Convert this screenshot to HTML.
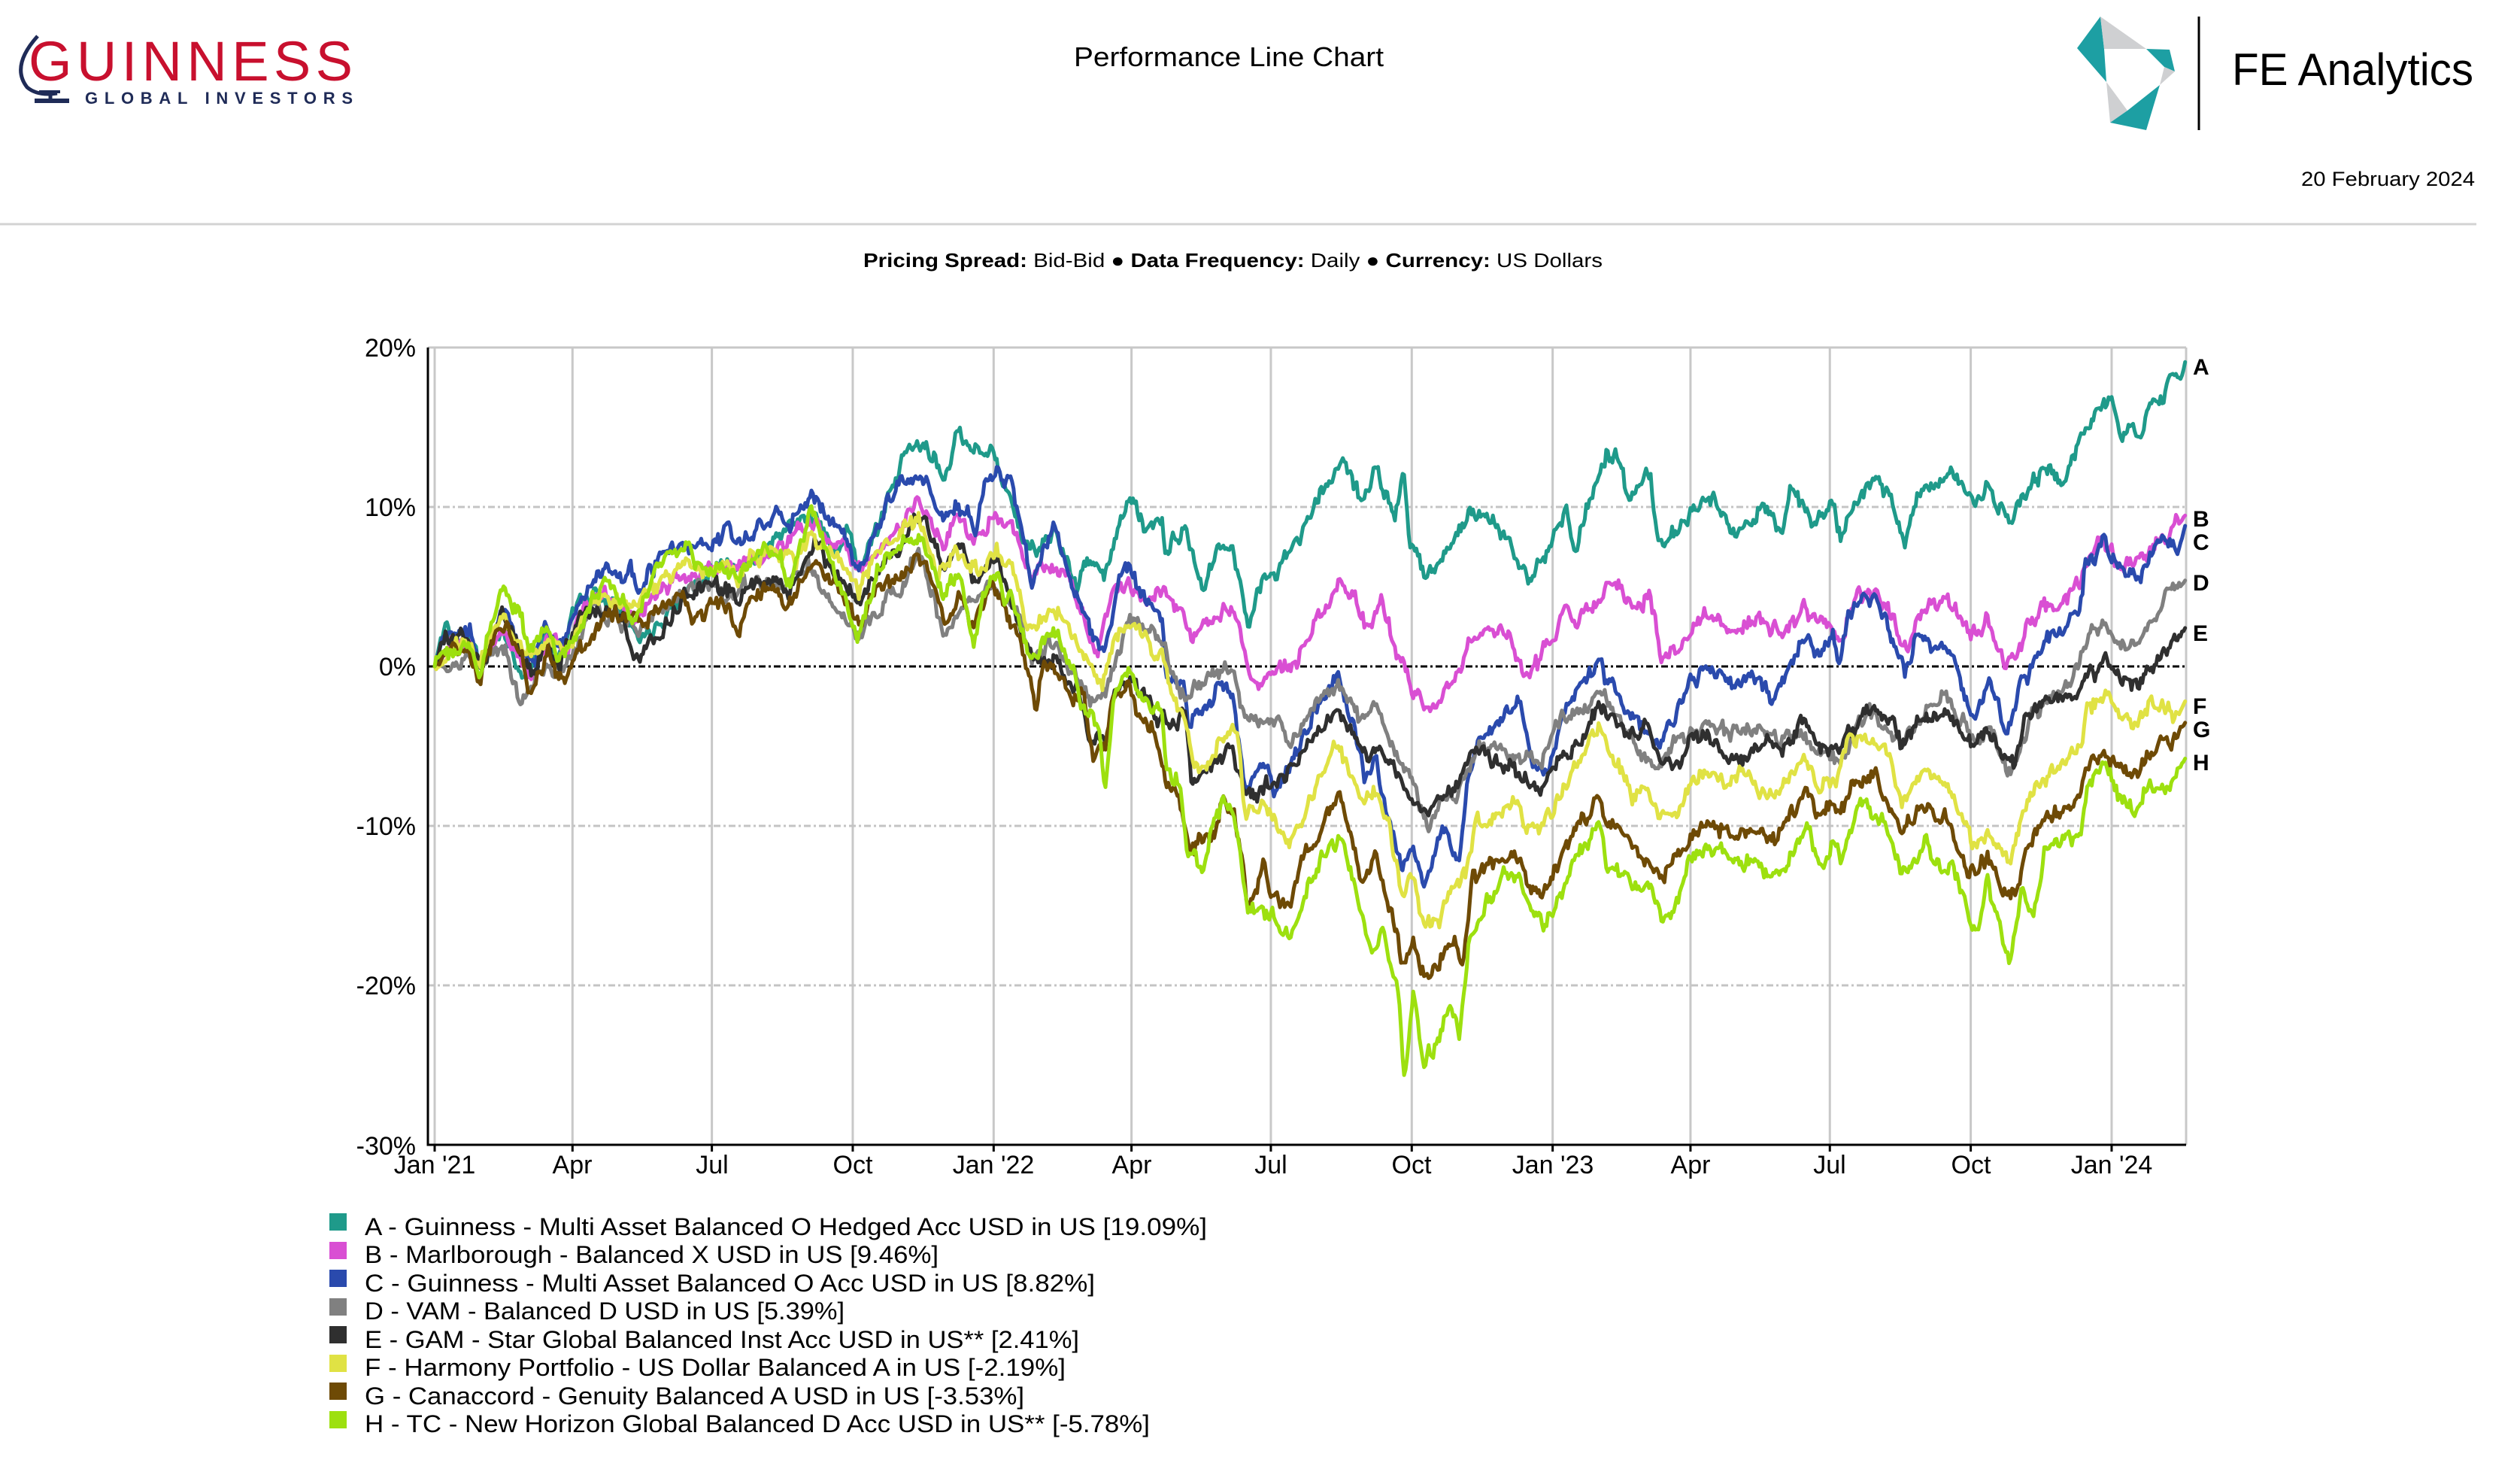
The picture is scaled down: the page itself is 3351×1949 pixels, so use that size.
<!DOCTYPE html>
<html>
<head>
<meta charset="utf-8">
<style>
html,body{margin:0;padding:0;background:#fff;overflow:hidden;}
svg{display:block;font-family:"Liberation Sans",Arial,sans-serif;}
</style>
</head>
<body>
<svg id="chart" width="3351" height="1949" viewBox="0 0 3351 1949" xmlns="http://www.w3.org/2000/svg">
  <rect x="0" y="0" width="3351" height="1949" fill="#ffffff"/>

  <!-- Guinness logo -->
  <path d="M50 48 Q14 88 36 116 Q50 128 76 124" fill="none" stroke="#1f2b57" stroke-width="5"/>
  <line x1="67" y1="121" x2="67" y2="133" stroke="#1f2b57" stroke-width="5"/>
  <rect x="46" y="131" width="46" height="6" fill="#1f2b57"/>
  <rect x="52" y="120" width="28" height="4" fill="#1f2b57"/>
  <text x="38" y="107" font-size="74" fill="#c8102e" textLength="431" lengthAdjust="spacing">GUINNESS</text>
  <text x="113" y="138" font-size="22" font-weight="bold" fill="#1f2b57" textLength="356" lengthAdjust="spacing">GLOBAL INVESTORS</text>

  <!-- Title -->
  <text x="1428" y="88" font-size="36" fill="#000" textLength="412" lengthAdjust="spacingAndGlyphs">Performance Line Chart</text>

  <!-- FE logo -->
  <polygon points="2793,22 2798,65 2801,109 2762,64" fill="#1d9fa3"/>
  <polygon points="2793,22 2854,65 2798,65" fill="#cfd0d2"/>
  <polygon points="2854,65 2885,66 2892,95 2878,89" fill="#1d9fa3"/>
  <polygon points="2878,89 2892,95 2872,113" fill="#cfd0d2"/>
  <polygon points="2801,109 2829,147 2806,163" fill="#cfd0d2"/>
  <polygon points="2806,163 2829,147 2872,113 2854,173" fill="#1d9fa3"/>
  <line x1="2924" y1="22" x2="2924" y2="173" stroke="#000" stroke-width="3"/>
  <text x="2968" y="113" font-size="60" fill="#000" textLength="321" lengthAdjust="spacingAndGlyphs">FE Analytics</text>
  <text x="3060" y="247" font-size="27" fill="#000" textLength="231" lengthAdjust="spacingAndGlyphs">20 February 2024</text>

  <!-- Separator -->
  <line x1="0" y1="298" x2="3293" y2="298" stroke="#d3d3d3" stroke-width="3"/>

  <!-- Subtitle -->
  <text x="1148" y="355" font-size="26" fill="#000" textLength="983" lengthAdjust="spacingAndGlyphs"><tspan font-weight="bold">Pricing Spread:</tspan> Bid-Bid ● <tspan font-weight="bold">Data Frequency:</tspan> Daily ● <tspan font-weight="bold">Currency:</tspan> US Dollars</text>

  <!-- Plot frame & grid -->
  <g id="grid"></g>
  <g id="series" fill="none" stroke-width="5" stroke-linejoin="round" stroke-linecap="round"></g>
  <g id="axes"></g>

  <!-- Right letters -->
  <g font-size="30" font-weight="bold" fill="#000">
    <text x="2916" y="498">A</text>
    <text x="2916" y="700">B</text>
    <text x="2916" y="731">C</text>
    <text x="2916" y="785">D</text>
    <text x="2916" y="852">E</text>
    <text x="2916" y="949">F</text>
    <text x="2916" y="980">G</text>
    <text x="2916" y="1024">H</text>
  </g>

  <!-- Y labels -->
  <g font-size="34" fill="#000" text-anchor="end">
    <text x="553" y="474">20%</text>
    <text x="553" y="686">10%</text>
    <text x="553" y="898">0%</text>
    <text x="553" y="1110">-10%</text>
    <text x="553" y="1322">-20%</text>
    <text x="553" y="1535">-30%</text>
  </g>

  <!-- X labels -->
  <g font-size="34" fill="#000" text-anchor="middle">
    <text x="578" y="1560">Jan '21</text>
    <text x="761" y="1560">Apr</text>
    <text x="947" y="1560">Jul</text>
    <text x="1134" y="1560">Oct</text>
    <text x="1321" y="1560">Jan '22</text>
    <text x="1505" y="1560">Apr</text>
    <text x="1690" y="1560">Jul</text>
    <text x="1877" y="1560">Oct</text>
    <text x="2065" y="1560">Jan '23</text>
    <text x="2248" y="1560">Apr</text>
    <text x="2433" y="1560">Jul</text>
    <text x="2621" y="1560">Oct</text>
    <text x="2808" y="1560">Jan '24</text>
  </g>

  <!-- Legend -->
  <g>
    <rect x="438" y="1613" width="23" height="23" fill="#1f9a8a"/>
    <rect x="438" y="1651" width="23" height="23" fill="#d94fd3"/>
    <rect x="438" y="1688" width="23" height="23" fill="#2a4aad"/>
    <rect x="438" y="1726" width="23" height="23" fill="#808080"/>
    <rect x="438" y="1763" width="23" height="23" fill="#2f2f2f"/>
    <rect x="438" y="1801" width="23" height="23" fill="#e0e244"/>
    <rect x="438" y="1838" width="23" height="23" fill="#6e4a05"/>
    <rect x="438" y="1876" width="23" height="23" fill="#9de00f"/>
  </g>
  <g font-size="32" fill="#000">
    <text x="485" y="1642" textLength="1120" lengthAdjust="spacingAndGlyphs">A - Guinness - Multi Asset Balanced O Hedged Acc USD in US [19.09%]</text>
    <text x="485" y="1679" textLength="763" lengthAdjust="spacingAndGlyphs">B - Marlborough - Balanced X USD in US [9.46%]</text>
    <text x="485" y="1717" textLength="971" lengthAdjust="spacingAndGlyphs">C - Guinness - Multi Asset Balanced O Acc USD in US [8.82%]</text>
    <text x="485" y="1754" textLength="638" lengthAdjust="spacingAndGlyphs">D - VAM - Balanced D USD in US [5.39%]</text>
    <text x="485" y="1792" textLength="950" lengthAdjust="spacingAndGlyphs">E - GAM - Star Global Balanced Inst Acc USD in US** [2.41%]</text>
    <text x="485" y="1829" textLength="932" lengthAdjust="spacingAndGlyphs">F - Harmony Portfolio - US Dollar Balanced A in US [-2.19%]</text>
    <text x="485" y="1867" textLength="877" lengthAdjust="spacingAndGlyphs">G - Canaccord - Genuity Balanced A USD in US [-3.53%]</text>
    <text x="485" y="1904" textLength="1044" lengthAdjust="spacingAndGlyphs">H - TC - New Horizon Global Balanced D Acc USD in US** [-5.78%]</text>
  </g>
</svg>

<script>
(function(){
  var NS = "http://www.w3.org/2000/svg";
  function X(d){ return 578 + 2.0365*d; }
  function Y(v){ return 886 - 21.2*v; }
  function el(tag, attrs, parent){
    var e = document.createElementNS(NS, tag);
    for (var k in attrs) e.setAttribute(k, attrs[k]);
    parent.appendChild(e); return e;
  }
  var grid = document.getElementById('grid');
  var axes = document.getElementById('axes');
  var top = Y(20), bot = 1522, left = 569, right = 2907;
  var ticks = [0,90,181,273,365,455,546,638,730,820,911,1003,1095];
  ticks.forEach(function(d){
    el('line',{x1:X(d),y1:top,x2:X(d),y2:bot,stroke:'#c8c8c8','stroke-width':3},grid);
  });
  el('line',{x1:left,y1:top,x2:right,y2:top,stroke:'#c8c8c8','stroke-width':3},grid);
  el('line',{x1:right,y1:top,x2:right,y2:bot,stroke:'#c8c8c8','stroke-width':3},grid);
  [10,-10,-20].forEach(function(v){
    el('line',{x1:left,y1:Y(v),x2:right,y2:Y(v),stroke:'#c4c4c4','stroke-width':3,'stroke-dasharray':'9 4 3 4'},grid);
  });
  el('line',{x1:left,y1:Y(0),x2:right,y2:Y(0),stroke:'#000','stroke-width':3,'stroke-dasharray':'9 4 3 4'},grid);
  el('line',{x1:left,y1:top,x2:left,y2:bot+1.5,stroke:'#000','stroke-width':3},axes);
  el('line',{x1:left,y1:bot,x2:right,y2:bot,stroke:'#000','stroke-width':3},axes);
  ticks.forEach(function(d){
    el('line',{x1:X(d),y1:bot,x2:X(d),y2:bot+9,stroke:'#000','stroke-width':3},axes);
  });

  var S = {
A:[0,0, 7,2.9, 10.8,1.7, 23,1.9, 30,0.2, 43.7,2.2, 50,1.1, 57,-0.6, 64.5,0.4, 72,1.7, 81.6,0.7, 91,3.7, 106,4.7, 123,3.7, 133,1.7, 143,2.5, 167,5, 187,6.6, 204,6.3, 226,8.3, 245,9.6, 260,7.6, 272,8.4, 277,6, 289,8.6, 299,11, 309,13.7, 321,13.8, 333,11.7, 340.5,14.9, 350,13.3, 362.5,13.8, 370,12, 377,10.1, 389,6.9, 404,8.5, 419,5.1, 426,6.7, 438,5.9, 453,10.7, 463,8.8, 475,8.8, 477.5,7.2, 490,8.5, 502,4.8, 512,7.5, 521.5,7.5, 531,2.7, 541,5.3, 556,6.7, 566,8.5, 580,10.9, 592.5,13.2, 605,10.4, 614.5,12.3, 627,9.3, 633,11.9, 636.5,7.7, 649,5.9, 663,7.5, 678,9.9, 695,8.5, 715,5.6, 727,7.2, 739,10.1, 745,7.2, 753,10.2, 765,13.3, 772,13.2, 780,10.3, 794,11.9, 799,8.1, 805,7.7, 820,9.6, 832.5,10.7, 850,8.1, 868,10.1, 880,8.4, 885,11.2, 900,9.1, 913,10.3, 918,8.1, 930.6,11, 940.6,12, 950.7,10.6, 959.5,7.7, 968,10.9, 981,11.3, 986,12.4, 1001,11, 1006,9.7, 1013.6,11.5, 1028.6,8.6, 1036,10.6, 1054,12.7, 1061,11.4, 1076,14.4, 1084.6,16, 1095,16.6, 1101,14.3, 1109,15.6, 1112.7,14.2, 1122,17, 1128,16.5, 1137,18.6, 1140.5,18, 1143,19.09],
B:[0,0, 10.8,1.2, 23,1.7, 30,0.2, 43.7,2.5, 57,0.1, 64.5,-0.6, 74,2, 86.5,0.9, 94,3.4, 106,4.7, 123,3.7, 133,2.7, 147.5,5, 167,5.8, 187,6.3, 208.6,6.6, 226,7.3, 248,9.2, 260,7.6, 265,7.8, 277,5.8, 289,7.4, 299,8.1, 316,10.6, 333,7.1, 340.5,9.4, 352.8,7.9, 367.5,9.6, 372,9, 377,8.8, 389.5,5.3, 399,6.4, 414,5.9, 423.7,3.2, 431,0.5, 443,4.8, 453,5.2, 463,4.5, 475,4.8, 485,3.7, 494.6,1.9, 507,2.9, 521.5,3.9, 526.4,2.1, 536,-1.3, 546,0, 560.7,0, 573,2.4, 585,4.3, 591,5.2, 602,4, 610,2.1, 618,4.3, 627,1.3, 639,-1.6, 650,-2.7, 663,-1.1, 680.5,2.1, 697.6,2.4, 713.5,-0.5, 727,1.1, 739,3.7, 746.6,2.7, 750,3.1, 757,3.8, 767,5.6, 775,5, 782,3.6, 794,4.3, 801,0.4, 812,0.9, 820,2.4, 832.5,3.3, 850,2.2, 865,3.1, 880,1.9, 894,3.6, 910,2.4, 918,1.5, 928,4.3, 940.6,4.8, 950.7,3.6, 959.5,0.9, 973,3.6, 988,4.3, 1003.5,1.6, 1013.6,3.1, 1026,0.4, 1032,0.4, 1041,2.8, 1051,4, 1061,3.6, 1074,5.3, 1076.4,6.2, 1089,7.8, 1101.6,6.2, 1111.6,6.5, 1121.7,7.7, 1134,8.4, 1143,9.46],
C:[0,0, 7,2, 23,2.2, 30,0.2, 43.7,4, 57,0.7, 64.5,0.1, 72,2.5, 81.6,1.4, 94,4, 106,5.6, 113,5.8, 123,5.2, 128,6.5, 133,4.3, 143,6.5, 155,7.3, 169.6,7.4, 182,7.7, 191.5,8.8, 199,7.3, 211,8.9, 226,9.6, 230.6,8.6, 240.4,9.9, 246.5,11, 257.5,9.2, 265,8.6, 277,6, 289,8.8, 296.6,10.4, 307.6,12, 321,11.6, 333,8.9, 340.5,10, 348,9.6, 352.8,8.1, 360,11.9, 367.5,12.2, 372,11.3, 376,11.7, 381,9.6, 389.5,5.3, 397,7.2, 404,9.1, 411.5,6.4, 419,4.3, 428.6,2.1, 438,1.1, 445.7,4.8, 453,6.4, 460,4.8, 475,3.2, 477.5,-0.5, 490,-1.6, 492,-3.7, 502,-2.7, 512,-1.3, 521.5,-1.6, 529,-7.5, 541,-5.9, 548.5,-8, 558,-6.4, 570,-3.7, 580,-1.6, 590,-0.8, 600,-3.2, 607,-6.9, 614.5,-5.6, 619.4,-8, 631.6,-12.8, 639,-11.2, 646,-13.9, 658.5,-10.1, 669.5,-12, 675.6,-6.4, 683,-4.8, 697.6,-3.2, 708.6,-2.1, 717,-6.4, 727,-6.4, 737,-2.7, 746.6,-1.1, 753,-0.8, 760,0.9, 765,-0.8, 775,-2.5, 787,-3.7, 800,-4.9, 810,-2.9, 820,-1, 830,-0.3, 850,-1, 865,-0.8, 873,-2.2, 885,0, 895,2.1, 905.5,0.7, 913,2.1, 917,0.4, 925.6,3.8, 940.6,4.3, 950.7,2.4, 959.5,-0.3, 968,1.9, 981,0.9, 991,0.9, 998.5,-1.7, 1005,-3.4, 1013.6,-1, 1021,-2.5, 1027,-4.4, 1036,-0.8, 1043.7,0, 1049,1.4, 1064,2.6, 1075,3.8, 1077.7,6.2, 1090,7.7, 1100,6, 1111.6,5.5, 1121.7,7.2, 1134,7.9, 1139,7.2, 1143,8.82],
D:[0,0, 10.8,0.1, 23,0.7, 30,-0.1, 40,1.1, 47,0.7, 54.7,-1.9, 62,-1.7, 72,0.1, 81.6,-0.7, 89,0.7, 103.6,4, 113,3, 128,2.4, 135,2.2, 147.5,3.4, 162,4.7, 182,5.2, 191.5,4.3, 206,5.3, 226,5, 245,6.1, 260,3.7, 277,2, 289,3.7, 304,4.7, 316,7.1, 333,1.9, 348,4, 362.5,5.2, 372,4.2, 380,3.7, 389.5,0.5, 404,1.3, 419,-0.5, 428.6,-1.9, 438,-1.6, 453,2.9, 463,2.4, 475,1.6, 480,0, 490,-2.1, 499.5,-1.1, 512,-0.3, 521.5,0, 529,-3.2, 541,-3.7, 551,-3.2, 558,-5.1, 570,-2.9, 580,-1.9, 590,-1.1, 605,-3.2, 614.5,-2.4, 627,-5.6, 636.5,-6.9, 649,-9.9, 658.5,-8, 668,-8, 680.5,-5.1, 697.6,-5.1, 712,-6.1, 722,-5.9, 737,-2.7, 746.6,-3.2, 753,-2.3, 760,-1.3, 770,-2.5, 785,-5.3, 797.4,-6.3, 810,-4.9, 820,-4.1, 832.5,-3.4, 850,-4.4, 865,-3.7, 878,-4.6, 890,-4.1, 903,-5.3, 918,-5.8, 930.6,-3.4, 940.6,-2.9, 945.7,-3.9, 958,-4.9, 971,-3.2, 986,-2, 996,-3.4, 1008.5,-4.4, 1016,-3.7, 1027,-6.6, 1033.7,-5.6, 1043.7,-3.2, 1056,-1.7, 1066,-1.3, 1074,0.4, 1084,2.6, 1091.5,2.6, 1099,1.2, 1111.6,1.6, 1121.7,3.1, 1131.7,4.3, 1143,5.39],
E:[0,0, 7,1.7, 23,1.7, 30,-0.1, 43.7,3.7, 57,0.7, 64.5,-0.4, 72,1.6, 81.6,0.2, 94,3, 106,3.5, 123,3, 130.5,0.4, 138,1.1, 147.5,2.2, 162,4, 167,4.7, 182,5.3, 191.5,4.7, 199,4.3, 211,5.2, 223,5.5, 230.6,4.7, 248,7.8, 260,6, 277,3.8, 289,6, 304,7.3, 316,9.6, 333,6.5, 343,7.6, 352.8,5.3, 367.5,6.6, 372,5, 380,2.9, 389.5,0.5, 397,0.5, 404,0.5, 419,-1.6, 428.6,-4.3, 438,-4.8, 443,-2.1, 453,-0.5, 463,-1.9, 475,-3.2, 477.5,-3.7, 490,-3.2, 494.6,-7.5, 502,-6.4, 512,-5.9, 521.5,-5.3, 529,-8, 541,-7.5, 556,-6.9, 570,-4.8, 580,-3.7, 590,-2.7, 600,-4.3, 610,-5.9, 617.9,-4.8, 630,-6.9, 636.5,-8.3, 649,-9.1, 656,-8, 668,-7.5, 678,-5.3, 692.8,-5.9, 702.5,-6.4, 712,-7.2, 722,-7.7, 737,-5.6, 746.6,-4.8, 753,-3.5, 760,-2.7, 770,-3.2, 782,-4.6, 790,-3.4, 800,-6.1, 815,-5.8, 822.5,-4.4, 832.5,-4.4, 845,-5.8, 857.7,-5.6, 870,-4.6, 880,-5.3, 893,-3.4, 905.5,-4.9, 918,-5.3, 930.6,-3.2, 940.6,-2.5, 950.7,-3.4, 958,-5.3, 968,-3.4, 986,-2.9, 998.5,-4.4, 1006,-5.1, 1013.6,-3.9, 1023.6,-5.8, 1031,-5.8, 1038.7,-3.4, 1054,-2, 1064,-2.5, 1079,-1, 1091.5,0.2, 1101.6,-1, 1111.6,-1.5, 1124,0.2, 1134,1.2, 1143,2.41],
F:[0,0, 1,-0.2, 10.8,1.1, 23,1.4, 28,0.1, 43.7,3.4, 57,1.1, 64.5,0.4, 74,2, 86.5,0.9, 98.7,3, 108,4.2, 123,4, 130.5,3.7, 143,5, 164.7,6.6, 177,5.8, 191.5,6.6, 199,5.3, 206,7, 226,7.3, 235.5,6.6, 245,8.6, 260,7, 277,5, 289,7.3, 304,8.3, 316,9.1, 328,5.8, 340.5,7, 352.8,6, 367.5,7.4, 372,6.5, 377,5.9, 389.5,2.1, 397,2.9, 404,4, 419,1.6, 428.6,0, 436,-1.3, 443,1.6, 455.5,2.9, 467.7,1.1, 475,0.8, 482,-2.1, 490,-3.2, 494.6,-5.9, 504,-6.7, 514,-4.3, 524,-4.3, 529,-9.1, 541,-8.5, 551,-10.1, 560.7,-10.9, 573,-8.3, 580,-6.4, 590,-4.8, 600,-7.5, 607,-8.5, 614.5,-8, 624,-10.1, 631.6,-14.4, 639,-13.1, 646,-16.3, 656,-16, 663,-14.1, 673,-13.3, 680.5,-10.1, 695,-9.1, 707,-8, 712,-10.1, 724,-10.1, 737,-7.5, 746.6,-5.9, 753,-5.2, 760,-3.9, 770,-5.8, 782,-8.2, 790,-7.5, 800,-9.4, 812,-9, 820,-7.3, 830,-6.6, 845,-7.3, 857.7,-6.8, 873,-8.5, 885,-6.8, 894,-5.8, 905.5,-7.5, 915.5,-7, 923,-4.6, 940.6,-4.6, 950.7,-5.8, 958,-8.5, 971,-6.6, 988,-7.3, 998.5,-9.7, 1006,-11.6, 1013.6,-10.2, 1028.6,-12.3, 1036,-9.4, 1046,-7.8, 1064,-5.8, 1075,-4.6, 1079,-2.5, 1091.5,-1.7, 1101.6,-2.9, 1111.6,-3.9, 1119,-2.5, 1131.7,-2.5, 1136.8,-3.2, 1143,-2.19],
G:[0,0, 1,0.2, 5.8,0.7, 15.6,1.2, 23,1.1, 29,-0.7, 43.7,2.9, 54.7,1.1, 63.3,-1.9, 74,0.9, 80.4,-0.7, 87.7,-0.7, 94,1.2, 103.6,1.9, 113,3.5, 123,2.7, 130.5,3.5, 138,2.5, 147.5,3.7, 162,4.7, 169.6,2.7, 182,4, 191.5,4, 197.6,1.9, 206,4.2, 223,5.3, 230.6,3.5, 246.5,6.6, 255,5.6, 265,4.7, 277,2.4, 289,5.3, 304,5.6, 313.7,6.6, 321,6.3, 333,2.7, 343,4.5, 352.8,2.7, 365,5.2, 372,3.8, 376,2.4, 382.5,1.6, 389.5,-1.1, 393,-2.9, 397,0, 404,0.3, 416,-1.9, 423.7,-1.6, 430,-5.6, 438,-5.1, 443,-2.1, 453,-0.8, 460,-3.2, 470,-3.7, 477.5,-7.2, 485,-8, 492,-11.5, 502,-10.9, 509,-10.4, 514,-8.5, 521.5,-9.1, 526.4,-11.5, 531,-14.9, 541,-12.8, 548.5,-14.7, 559.5,-14.7, 565.6,-12.3, 578,-10.4, 590,-7.7, 597,-10.1, 605,-13.6, 614.5,-12, 629,-17.1, 631.6,-19.1, 639,-17.1, 646,-19.5, 656,-18.7, 666,-17.1, 671,-18.7, 678,-13.3, 688,-12.8, 697.6,-12, 708.6,-11.7, 715,-13.9, 729,-13.6, 737,-11.5, 746.6,-10.1, 753,-9.5, 760,-8.5, 765,-9.7, 775,-10.4, 787,-11.9, 802.4,-13.1, 815,-11.6, 822.5,-10.2, 832.5,-9.9, 850,-10.4, 865,-10.2, 873,-11.1, 885,-9.4, 895.7,-8, 905.5,-9.2, 913,-8.5, 918,-9.2, 925.6,-7.3, 940.6,-7, 948,-8.5, 958,-10.4, 971,-8.7, 988,-9.7, 996,-11.9, 1005,-13.3, 1013.6,-11.9, 1026,-14.3, 1032,-14.3, 1038.7,-11.6, 1051,-9.7, 1064,-9, 1074,-8.5, 1077.7,-6.6, 1090,-5.3, 1100,-6.3, 1111.6,-6.8, 1121.7,-5.3, 1134,-4.6, 1143,-3.53],
H:[0,0, 1,0.6, 10.8,0.9, 23,1.2, 29,-0.6, 43.7,5.2, 54.7,3.5, 62,0.7, 72,2.4, 81.6,0.7, 89,1.1, 101,3.7, 111,5.2, 123,4, 130.5,3, 147.5,7, 164.7,7.8, 172,6, 191.5,6.3, 199,5.2, 211,7.3, 226,7.1, 230.6,5.2, 246.5,10.1, 260,6, 277,1.9, 289,6, 304,7.6, 316,8.4, 333,4.3, 343,6, 351.6,1.4, 357.7,4.2, 367.5,5.6, 372,4.5, 377,4.3, 389.5,0.5, 404,2.4, 419,-1.1, 428.6,-3.2, 434.7,-4.3, 438,-7.7, 443,-2.1, 453,0, 463,-2.1, 475,-2.9, 477.5,-6.1, 487,-7.5, 492,-11.5, 497,-12.3, 503,-12.8, 507,-10.1, 514,-8.3, 521.5,-9.1, 526.4,-12.3, 531,-15.2, 546,-15.5, 559.5,-17.3, 570,-13.9, 582,-11.7, 592.5,-10.7, 600,-13.3, 610,-17.6, 619.4,-17.1, 629,-20.3, 633,-25.6, 639,-20.8, 646,-24.8, 656,-23.2, 663,-21.3, 669.5,-22.9, 675.6,-17.1, 688,-14.9, 697.6,-13.1, 707.6,-13.3, 717,-15.5, 724,-16.3, 737,-13.9, 746.6,-11.7, 753,-11.2, 756,-10.4, 761,-9.7, 765,-12.6, 775,-12.8, 785,-14.3, 794,-13.3, 801,-16.2, 810,-15.2, 820,-12.1, 832.5,-11.4, 850,-12.1, 865,-12.1, 873,-13.8, 885,-12.3, 895.7,-9.7, 905.5,-12.8, 913,-11.4, 918,-12.3, 930.6,-8.5, 943,-9.4, 958,-12.6, 968,-12.6, 973,-10.9, 981,-12.6, 991,-12.3, 998.5,-14.5, 1003.5,-16.4, 1008.5,-16.4, 1013.6,-13.5, 1020,-15.7, 1028.6,-18.8, 1036,-13.8, 1043.7,-15.5, 1051,-11.6, 1064,-10.9, 1075,-10.4, 1079,-7.8, 1090,-5.8, 1099,-8.2, 1111.6,-9, 1119,-7.3, 1131.7,-7.5, 1143,-5.78]
  };
  var colors = {A:'#1f9a8a',B:'#d94fd3',C:'#2a4aad',D:'#808080',E:'#2f2f2f',F:'#e0e244',G:'#6e4a05',H:'#9de00f'};
  var seeds = {A:11,B:23,C:37,D:41,E:53,F:67,G:79,H:97};

  function mulberry32(a){return function(){a|=0;a=a+0x6D2B79F5|0;var t=Math.imul(a^a>>>15,1|a);t=t+Math.imul(t^t>>>7,61|t)^t;return((t^t>>>14)>>>0)/4294967296;}}

  var sg = document.getElementById('series');
  ['A','B','C','D','E','F','G','H'].forEach(function(k){
    var kp = S[k], rnd = mulberry32(seeds[k]);
    var pts = [];
    for (var i=0;i<kp.length;i+=2) pts.push([kp[i],kp[i+1]]);
    var end = 1143, n = 0, j = 0, d = [];
    for (var day=0; day<=end; day+=1){
      while (j < pts.length-2 && pts[j+1][0] < day) j++;
      var a = pts[j], b = pts[Math.min(j+1,pts.length-1)];
      var t = b[0]===a[0] ? 0 : (day-a[0])/(b[0]-a[0]);
      t = Math.max(0,Math.min(1,t));
      var base = a[1] + (b[1]-a[1])*t;
      var g = (rnd()+rnd()+rnd()-1.5)*0.5;
      n = 0.45*n + g;
      var taper = Math.min(1, day/6, (end-day)/6);
      var v = base + n*taper;
      d.push((day===0?'M':'L') + X(day).toFixed(1) + ' ' + Y(v).toFixed(1));
    }
    el('path',{d:d.join(' '),stroke:colors[k]},sg);
  });
})();
</script>
</body>
</html>
